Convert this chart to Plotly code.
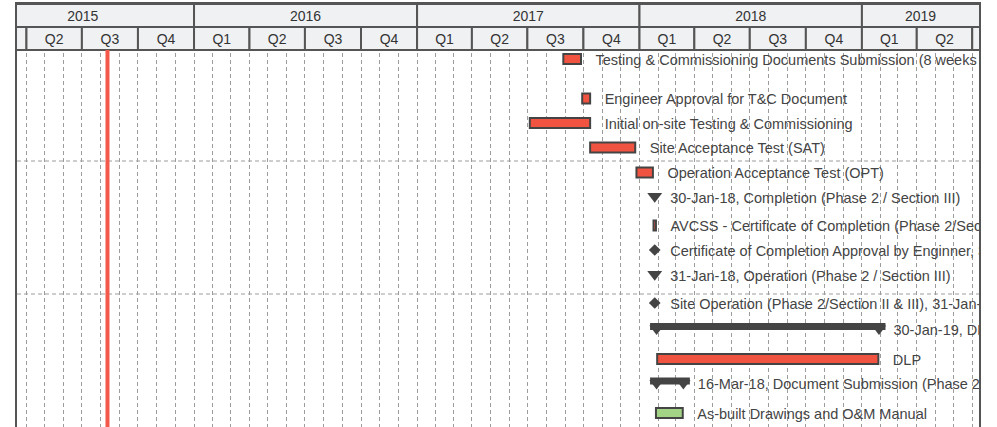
import datetime as dt
import plotly.graph_objects as go

# ---------------- data ----------------
task_names = [
    "Testing & Commissioning Documents Submission (8 weeks before SAT)",
    "Engineer Approval for T&C Document",
    "Initial on-site Testing & Commissioning",
    "Site Acceptance Test (SAT)",
    "Operation Acceptance Test (OPT)",
    "30-Jan-18, Completion (Phase 2 / Section III)",
    "AVCSS - Certificate of Completion (Phase 2/Section III)",
    "Certificate of Completion Approval by Enginner, 30-Jan-18",
    "31-Jan-18, Operation (Phase 2 / Section III)",
    "Site Operation (Phase 2/Section II & III), 31-Jan-18",
    "30-Jan-19, DLP End (Phase 2 / Section III)",
    "DLP",
    "16-Mar-18, Document Submission (Phase 2 / Section III)",
    "As-built Drawings and O&M Manual",
]
task_start = [
    "2017-08-29", "2017-09-29", "2017-07-05", "2017-10-12", "2017-12-27",
    "2018-01-26", "2018-01-24", "2018-01-26", "2018-01-26", "2018-01-26",
    "2018-01-29", "2018-01-30", "2018-01-29", "2018-01-28",
]
task_end = [
    "2017-09-27", "2017-10-12", "2017-10-12", "2017-12-25", "2018-01-23",
    "2018-01-26", "2018-01-28", "2018-01-26", "2018-01-26", "2018-01-26",
    "2019-01-29", "2019-01-28", "2018-03-14", "2018-03-13",
]
task_kind = [
    "task", "task", "task", "task", "task",
    "milestone", "task", "key", "milestone", "key",
    "summary", "task", "summary", "task",
]
task_state = [
    "open", "open", "open", "open", "open",
    "open", "open", "open", "open", "open",
    "open", "open", "open", "done",
]
today = "2015-08-12"
years = [2015, 2016, 2017, 2018, 2019]
quarter_labels = ["Q1", "Q2", "Q3", "Q4"]

# ---------------- layout / style constants ----------------
W, H = 997, 427
X0_PX, X1_PX = 17, 979
TOP_PX, MID_PX, BODY_PX = 4, 27, 50
X_RANGE = ["2015-03-16 12:00", "2019-07-12 03:00"]
VIEW_START = "2015-01-01"
ROW_Y = [59, 98.5, 123, 147.5, 172.5, 197, 225.5, 250, 275, 303, 329, 359, 383.5, 413]
SEPARATOR_Y = [161, 294]

RED = "#F05441"
GREEN = "#A3D486"
DARK = "#444444"
BORDER = "#555555"
HEADER_BG = "#F0F1F3"
GRID = "#9C9C9C"
TEXT = "#444444"
FONT = "Liberation Sans, Arial, sans-serif"

P = lambda s: dt.datetime.fromisoformat(s)
xr0, xr1 = P(X_RANGE[0]), P(X_RANGE[1])
px_per_day = (X1_PX - X0_PX) / ((xr1 - xr0).total_seconds() / 86400)
def px_days(px):
    return dt.timedelta(days=px / px_per_day)

fig = go.Figure()

# ---- task bars ----
for state, color in (("open", RED), ("done", GREEN)):
    idx = [i for i, k in enumerate(task_kind) if k == "task" and task_state[i] == state]
    if not idx:
        continue
    fig.add_trace(go.Bar(
        orientation="h",
        y=[ROW_Y[i] for i in idx],
        base=[P(task_start[i]) for i in idx],
        x=[(P(task_end[i]) - P(task_start[i])).total_seconds() * 1000 for i in idx],
        width=10,
        marker=dict(color=color, line=dict(color="#444444", width=2)),
        hoverinfo="skip",
    ))

# ---- summary bars ----
sidx = [i for i, k in enumerate(task_kind) if k == "summary"]
ext = px_days(6.5)
fig.add_trace(go.Bar(
    orientation="h",
    y=[ROW_Y[i] - 2.5 for i in sidx],
    base=[P(task_start[i]) - ext for i in sidx],
    x=[(P(task_end[i]) - P(task_start[i]) + 2 * ext).total_seconds() * 1000 for i in sidx],
    width=7,
    marker=dict(color=DARK, line=dict(width=0)),
    hoverinfo="skip",
))
tri_x, tri_y = [], []
for i in sidx:
    for d in (task_start[i], task_end[i]):
        tri_x.append(P(d))
        tri_y.append(ROW_Y[i] - 0.3)
fig.add_trace(go.Scatter(
    x=tri_x, y=tri_y, mode="markers",
    marker=dict(symbol="triangle-down", size=12.5, color=DARK, line=dict(width=0)),
    hoverinfo="skip",
))

# ---- milestones ----
midx = [i for i, k in enumerate(task_kind) if k == "milestone"]
fig.add_trace(go.Scatter(
    x=[P(task_start[i]) for i in midx], y=[ROW_Y[i] - 0.8 for i in midx],
    mode="markers",
    marker=dict(symbol="triangle-down", size=13, color=DARK, line=dict(width=0)),
    hoverinfo="skip",
))
kidx = [i for i, k in enumerate(task_kind) if k == "key"]
fig.add_trace(go.Scatter(
    x=[P(task_start[i]) for i in kidx], y=[ROW_Y[i] for i in kidx],
    mode="markers",
    marker=dict(symbol="diamond", size=9, color=DARK, line=dict(width=0)),
    hoverinfo="skip",
))

# ---- task labels ----
lab_x = []
for i, k in enumerate(task_kind):
    if k in ("milestone", "key"):
        lab_x.append(P(task_start[i]) + px_days(15.5))
    else:
        lab_x.append(P(task_end[i]) + px_days(14.5))
fig.add_trace(go.Scatter(
    x=lab_x, y=[y + 2.0 for y in ROW_Y], mode="text",
    text=task_names, textposition="middle right",
    textfont=dict(family=FONT, size=14.5, color=TEXT),
    cliponaxis=True, hoverinfo="skip",
))

# ---- header (timescale) ----
shapes = []
view0 = P(VIEW_START)
hx, hy, ht = [], [], []
for yr in years:
    a, b = dt.datetime(yr, 1, 1), dt.datetime(yr + 1, 1, 1)
    shapes.append(dict(type="rect", xref="x", yref="y", x0=a, x1=b, y0=TOP_PX, y1=MID_PX,
                       fillcolor=HEADER_BG, line=dict(color=BORDER, width=2), layer="between"))
    va, vb = max(a, view0), min(b, xr1)
    hx.append(va + (vb - va) / 2); hy.append((TOP_PX + MID_PX) / 2 + 1.5); ht.append(str(yr))
    for q, ql in enumerate(quarter_labels):
        qa = dt.datetime(yr, 3 * q + 1, 1)
        qb = dt.datetime(yr + (1 if q == 3 else 0), 1 if q == 3 else 3 * q + 4, 1)
        if qb <= xr0 or qa >= xr1:
            continue
        shapes.append(dict(type="rect", xref="x", yref="y", x0=qa, x1=qb, y0=MID_PX, y1=BODY_PX,
                           fillcolor=HEADER_BG, line=dict(color=BORDER, width=2), layer="between"))
        va, vb = max(qa, view0), min(qb, xr1)
        if (vb - va).days < 20:
            continue
        hx.append(va + (vb - va) / 2); hy.append((MID_PX + BODY_PX) / 2 + 1.5); ht.append(ql)
fig.add_trace(go.Scatter(
    x=hx, y=hy, mode="text", text=ht, textposition="middle center",
    textfont=dict(family=FONT, size=14, color="#333333"),
    cliponaxis=True, hoverinfo="skip",
))

# group separators
for sy in SEPARATOR_Y:
    shapes.append(dict(type="line", xref="x", yref="y", x0=xr0, x1=xr1, y0=sy, y1=sy,
                       line=dict(color=GRID, width=1, dash="4px,3px"), layer="between"))
# today line
shapes.append(dict(type="line", xref="x", yref="y", x0=P(today), x1=P(today), y0=BODY_PX, y1=H,
                   line=dict(color="#F4584A", width=4), layer="between"))

fig.update_layout(
    width=W, height=H, margin=dict(l=0, r=0, t=0, b=0),
    paper_bgcolor="white", plot_bgcolor="white",
    showlegend=False, barmode="overlay", hovermode=False,
    shapes=shapes,
)
fig.update_xaxes(
    type="date", range=X_RANGE, domain=[X0_PX / W, X1_PX / W], side="top",
    showline=True, linecolor=BORDER, linewidth=2, mirror=False,
    showticklabels=False, ticks="", showgrid=True, gridcolor=GRID, gridwidth=1,
    griddash="4px,3px", dtick="M1", tick0="2015-01-01", zeroline=False, fixedrange=True,
)
fig.update_yaxes(
    range=[H, TOP_PX], domain=[0, 1 - TOP_PX / H],
    showline=True, mirror=True, linecolor=BORDER, linewidth=2,
    showticklabels=False, ticks="", showgrid=False, zeroline=False, fixedrange=True,
)

fig.write_html(
    "out.html",
    config={"displayModeBar": False},
    post_script="document.body.style.margin='0';document.body.style.padding='0';",
)
